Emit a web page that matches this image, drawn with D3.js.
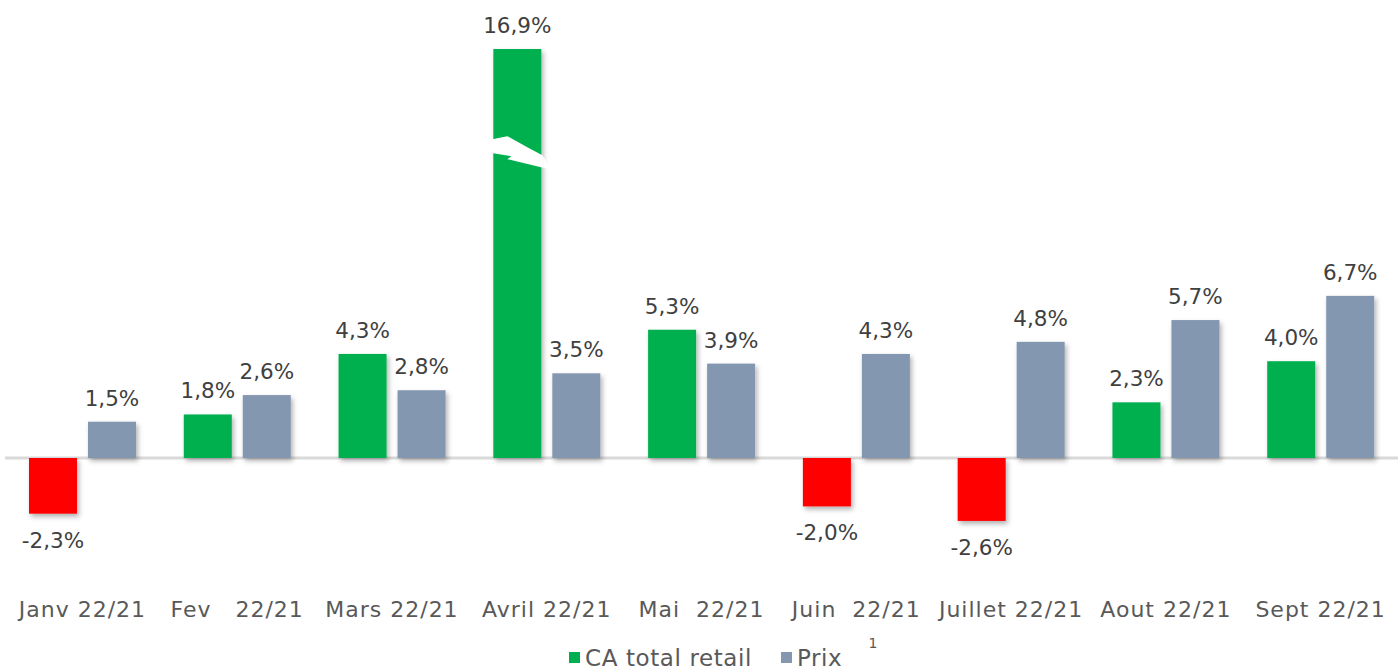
<!DOCTYPE html>
<html lang="fr">
<head>
    <meta charset="UTF-8">
    <title>CA total retail vs Prix</title>
    <script src="https://d3js.org/d3.v7.min.js"></script>
    <style>
        body { margin: 0; background: #fff; }
        svg text { font-family: "DejaVu Sans", "Open Sans", sans-serif; }
    </style>
</head>
<body>
    <div id="chart"></div>
    <script>
        // donnees
        var months = ["Janv 22/21", "Fev   22/21", "Mars 22/21", "Avril 22/21", "Mai  22/21",
                      "Juin  22/21", "Juillet 22/21", "Aout 22/21", "Sept 22/21"];
        var caTotal = [-2.3, 1.8, 4.3, 16.9, 5.3, -2.0, -2.6, 2.3, 4.0];
        var prix = [1.5, 2.6, 2.8, 3.5, 3.9, 4.3, 4.8, 5.7, 6.7];
        var seriesNames = ["CA total retail", "Prix"];

        var width = 1398, height = 671;
        var green = "#00B050", red = "#FF0000", grey = "#8497B0";

        var svg = d3.select("#chart").append("svg")
            .attr("width", width)
            .attr("height", height);

        var defs = svg.append("defs");
        var f = defs.append("filter").attr("id", "shadow")
            .attr("x", "-20%").attr("y", "-20%").attr("width", "150%").attr("height", "150%");
        f.append("feDropShadow")
            .attr("dx", 2).attr("dy", 3).attr("stdDeviation", 2.5)
            .attr("flood-color", "#000").attr("flood-opacity", 0.3);

        var x = d3.scaleBand().domain(months).range([5, 1398]);
        var inner = d3.scaleBand().domain(seriesNames).range([24, 131]).paddingInner(0.186);

        var y = d3.scaleLinear().domain([-5, 17]).range([579, 46.6]);

        // ligne zero
        svg.append("line")
            .attr("x1", 5).attr("x2", width)
            .attr("y1", y(0)).attr("y2", y(0))
            .attr("stroke", "#D9D9D9").attr("stroke-width", 3);

        var rows = months.map(function(m, i) {
            return [
                {m: m, s: seriesNames[0], v: caTotal[i], c: caTotal[i] < 0 ? red : green},
                {m: m, s: seriesNames[1], v: prix[i], c: grey}
            ];
        });
        var flat = d3.merge(rows);

        svg.append("g").selectAll("rect")
            .data(flat)
            .join("rect")
            .attr("x", function(d) { return x(d.m) + inner(d.s); })
            .attr("width", inner.bandwidth())
            .attr("y", function(d) { return y(Math.max(0, d.v)); })
            .attr("height", function(d) { return Math.abs(y(d.v) - y(0)); })
            .attr("fill", function(d) { return d.c; })
            .attr("filter", "url(#shadow)");

        // symbole de coupure sur la barre d'avril
        var brk = flat.filter(function(d) { return d.v > 10; });
        svg.append("g").selectAll("path")
            .data(brk)
            .join("path")
            .attr("d", function(d) {
                var bx = x(d.m) + inner(d.s), by = y(13.3);
                var pts = [[-6, 4], [14, 0], [34, 11], [49, 19], [56, 30], [56, 33],
                           [14, 23], [18, 20], [0, 17], [-6, 15]];
                return d3.line()(pts.map(function(p) { return [bx + p[0], by + p[1]]; })) + "Z";
            })
            .attr("fill", "#fff");

        // etiquettes de valeurs
        var fmt = function(v) { return d3.format(".1f")(v).replace(".", ",").replace("\u2212", "-") + "%"; };
        svg.append("g").selectAll("text")
            .data(flat)
            .join("text")
            .attr("x", function(d) { return x(d.m) + inner(d.s) + inner.bandwidth() / 2; })
            .attr("y", function(d) { return d.v >= 0 ? y(d.v) - 16 : y(d.v) + 34; })
            .attr("text-anchor", "middle")
            .attr("font-size", 21.5)
            .attr("fill", "#404040")
            .text(function(d) { return fmt(d.v); });

        // axe des categories
        var xAxis = svg.append("g")
            .attr("transform", "translate(0,617)")
            .call(d3.axisBottom(x).tickSize(0).tickPadding(0));
        xAxis.select(".domain").remove();
        xAxis.selectAll("text")
            .attr("dy", 0)
            .attr("font-size", 22)
            .attr("letter-spacing", 1)
            .attr("fill", "#595959")
            .style("white-space", "pre")
            .style("font-family", "'DejaVu Sans', sans-serif");

        // legende
        var legendItems = [
            {name: seriesNames[0], color: green, x: 569},
            {name: seriesNames[1], color: grey, x: 781}
        ];
        var lg = svg.append("g").selectAll("g")
            .data(legendItems)
            .join("g")
            .attr("transform", function(d) { return "translate(" + d.x + ",0)"; });
        lg.append("rect")
            .attr("x", 0).attr("y", 652)
            .attr("width", 11).attr("height", 11)
            .attr("fill", function(d) { return d.color; });
        lg.append("text")
            .attr("x", 16).attr("y", 666)
            .attr("font-size", 23)
            .attr("letter-spacing", 0.6)
            .attr("fill", "#595959")
            .text(function(d) { return d.name; });

        svg.append("text")
            .attr("x", 873).attr("y", 648)
            .attr("text-anchor", "middle")
            .attr("font-size", 14)
            .attr("fill", "#595959")
            .text("1");
    </script>
</body>
</html>
